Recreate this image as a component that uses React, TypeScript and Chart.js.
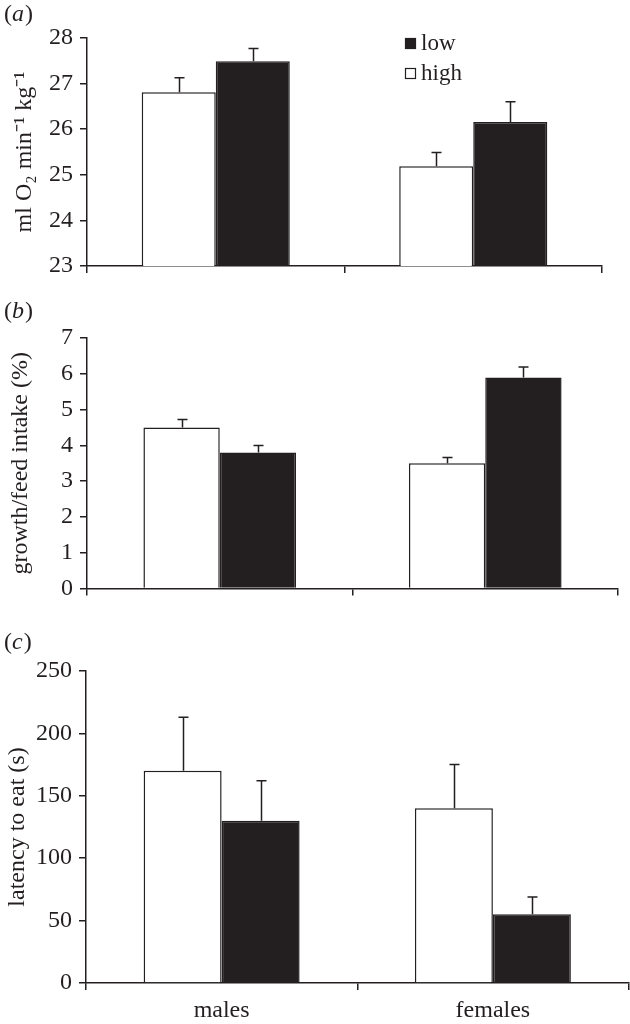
import React, { useEffect, useRef } from "react";
import { Chart, registerables } from "chart.js";
Chart.register(...registerables);

const categories = ["males", "females"];
const seriesNames = ["high", "low"];

// panel (a) oxygen consumption
const o2High = [26.81, 25.19];
const o2Low = [27.49, 26.16];
const o2HighErr = [0.32, 0.3];
const o2LowErr = [0.28, 0.44];
const o2Axis = { min: 23, max: 28, step: 1 };

// panel (b) growth / feed intake
const growthHigh = [4.5, 3.5];
const growthLow = [3.8, 5.9];
const growthHighErr = [0.22, 0.16];
const growthLowErr = [0.2, 0.29];
const growthAxis = { min: 0, max: 7, step: 1 };

// panel (c) latency to eat
const latencyHigh = [170, 140];
const latencyLow = [130, 55];
const latencyHighErr = [43, 35];
const latencyLowErr = [32, 14];
const latencyAxis = { min: 0, max: 250, step: 50 };

const INK = "#231f20";
const FONT = "'Liberation Serif', 'Times New Roman', Times, serif";

const errorBarPlugin = {
  id: "errorBars",
  afterDatasetsDraw(chart: any) {
    const ctx = chart.ctx;
    const yScale = chart.scales.y;
    ctx.save();
    ctx.strokeStyle = INK;
    ctx.lineWidth = 1.5;
    chart.data.datasets.forEach((ds: any, i: number) => {
      const meta = chart.getDatasetMeta(i);
      meta.data.forEach((el: any, j: number) => {
        const v = ds.data[j];
        const e = ds.errors[j];
        const yTop = yScale.getPixelForValue(v + e);
        const x = Math.round(el.x) + 0.5;
        ctx.beginPath();
        ctx.moveTo(x, el.y);
        ctx.lineTo(x, yTop);
        ctx.moveTo(x - 5, yTop);
        ctx.lineTo(x + 5, yTop);
        ctx.stroke();
      });
    });
    ctx.restore();
  },
};

const panelLabelPlugin = {
  id: "panelLabel",
  afterDraw(chart: any, _args: any, opts: any) {
    if (!opts || !opts.letter) return;
    const ctx = chart.ctx;
    ctx.save();
    ctx.fillStyle = INK;
    ctx.textBaseline = "alphabetic";
    ctx.textAlign = "left";
    let x = opts.x;
    ctx.font = `24px ${FONT}`;
    ctx.fillText("(", x, opts.y);
    x += ctx.measureText("(").width;
    ctx.font = `italic 24px ${FONT}`;
    ctx.fillText(opts.letter, x, opts.y);
    x += ctx.measureText(opts.letter).width + 1;
    ctx.font = `24px ${FONT}`;
    ctx.fillText(")", x, opts.y);
    ctx.restore();
  },
};

const customLegendPlugin = {
  id: "customLegend",
  afterDraw(chart: any, _args: any, opts: any) {
    if (!opts || !opts.show) return;
    const ctx = chart.ctx;
    const ca = chart.chartArea;
    const ds = [...chart.data.datasets].reverse();
    ctx.save();
    ctx.font = `23px ${FONT}`;
    ctx.textBaseline = "alphabetic";
    ctx.textAlign = "left";
    ds.forEach((d: any, k: number) => {
      const bx = ca.left + opts.dx;
      const by = opts.top + k * opts.rowGap;
      ctx.fillStyle = d.backgroundColor;
      ctx.fillRect(bx, by, 11, 11);
      ctx.strokeStyle = INK;
      ctx.lineWidth = 1.2;
      ctx.strokeRect(bx + 0.5, by + 0.5, 10, 10);
      ctx.fillStyle = INK;
      ctx.fillText(d.label, bx + 16, by + 12);
    });
    ctx.restore();
  },
};

type PanelSpec = {
  high: number[];
  low: number[];
  highErr: number[];
  lowErr: number[];
  axis: { min: number; max: number; step: number };
  title: string;
  letter: string;
  height: number;
  padTop: number;
  padRight: number;
  xHeight: number;
  yWidth: number;
  titlePad: number;
  showXLabels: boolean;
  legend: boolean;
  labelY: number;
};

function Panel({ spec, top }: { spec: PanelSpec; top: number }) {
  const ref = useRef<HTMLCanvasElement | null>(null);
  useEffect(() => {
    let chart: Chart | null = null;
    let cancelled = false;
    const build = () => {
      if (cancelled || !ref.current) return;
      chart = new Chart(ref.current, {
        type: "bar",
        data: {
          labels: categories,
          datasets: [
            {
              label: seriesNames[0],
              data: spec.high,
              errors: spec.highErr,
              backgroundColor: "#ffffff",
              borderColor: INK,
              borderWidth: 1.5,
              categoryPercentage: 0.575,
              barPercentage: 1.0,
            } as any,
            {
              label: seriesNames[1],
              data: spec.low,
              errors: spec.lowErr,
              backgroundColor: INK,
              borderColor: INK,
              borderWidth: 1.5,
              categoryPercentage: 0.575,
              barPercentage: 1.0,
            } as any,
          ],
        },
        options: {
          responsive: false,
          animation: false,
          devicePixelRatio: 1,
          layout: { padding: { top: spec.padTop, right: spec.padRight, left: 0, bottom: 0 } },
          plugins: {
            legend: { display: false },
            tooltip: { enabled: false },
            panelLabel: { letter: spec.letter, x: 4, y: spec.labelY },
            customLegend: { show: spec.legend, dx: 318, top: 38, rowGap: 30 },
          } as any,
          scales: {
            x: {
              type: "category",
              offset: true,
              grid: {
                offset: true,
                drawOnChartArea: false,
                drawTicks: true,
                tickLength: 7,
                color: INK,
                lineWidth: 1.5,
              },
              border: { display: true, color: INK, width: 1.5 },
              ticks: {
                display: spec.showXLabels,
                color: INK,
                padding: 6,
                font: { family: FONT, size: 24 },
              },
              afterFit: (s: any) => {
                s.height = spec.xHeight;
              },
            },
            y: {
              type: "linear",
              min: spec.axis.min,
              max: spec.axis.max,
              grid: {
                drawOnChartArea: false,
                drawTicks: true,
                tickLength: 7,
                color: INK,
                lineWidth: 1.5,
              },
              border: { display: true, color: INK, width: 1.5 },
              ticks: {
                stepSize: spec.axis.step,
                color: INK,
                padding: 7,
                font: { family: FONT, size: 24 },
              },
              title: {
                display: true,
                text: spec.title,
                color: INK,
                font: { family: FONT, size: 24 },
                padding: { top: spec.titlePad, bottom: 0 },
              },
              afterFit: (s: any) => {
                s.width = spec.yWidth;
              },
            },
          },
        },
        plugins: [errorBarPlugin, panelLabelPlugin, customLegendPlugin],
      });
    };
    const fontsApi: any = (document as any).fonts;
    if (fontsApi && fontsApi.load) {
      Promise.all([
        fontsApi.load(`24px "Liberation Serif"`),
        fontsApi.load(`italic 24px "Liberation Serif"`),
      ]).then(build, build);
    } else {
      build();
    }
    return () => {
      cancelled = true;
      if (chart) chart.destroy();
    };
  }, [spec]);
  return (
    <canvas
      ref={ref}
      width={630}
      height={spec.height}
      style={{ position: "absolute", left: 0, top, width: 630, height: spec.height, display: "block" }}
    />
  );
}

const panels: { spec: PanelSpec; top: number }[] = [
  {
    top: 0,
    spec: {
      high: o2High, low: o2Low, highErr: o2HighErr, lowErr: o2LowErr, axis: o2Axis,
      title: "ml O\u2082 min\u207B\u00B9 kg\u207B\u00B9", letter: "a",
      height: 290, padTop: 38, padRight: 28, xHeight: 24, yWidth: 87, titlePad: 10,
      showXLabels: false, legend: true, labelY: 21,
    },
  },
  {
    top: 290,
    spec: {
      high: growthHigh, low: growthLow, highErr: growthHighErr, lowErr: growthLowErr, axis: growthAxis,
      title: "growth/feed intake (%)", letter: "b",
      height: 320, padTop: 48, padRight: 12, xHeight: 19, yWidth: 87, titlePad: 6,
      showXLabels: false, legend: false, labelY: 28,
    },
  },
  {
    top: 610,
    spec: {
      high: latencyHigh, low: latencyLow, highErr: latencyHighErr, lowErr: latencyLowErr, axis: latencyAxis,
      title: "latency to eat (s)", letter: "c",
      height: 414, padTop: 61, padRight: 1.5, xHeight: 41, yWidth: 86, titlePad: 3,
      showXLabels: true, legend: false, labelY: 39,
    },
  },
];

export default function App() {
  return (
    <div style={{ position: "absolute", left: 0, top: 0, width: 630, height: 1024, background: "#ffffff" }}>
      {panels.map((p, i) => (
        <Panel key={i} spec={p.spec} top={p.top} />
      ))}
    </div>
  );
}
